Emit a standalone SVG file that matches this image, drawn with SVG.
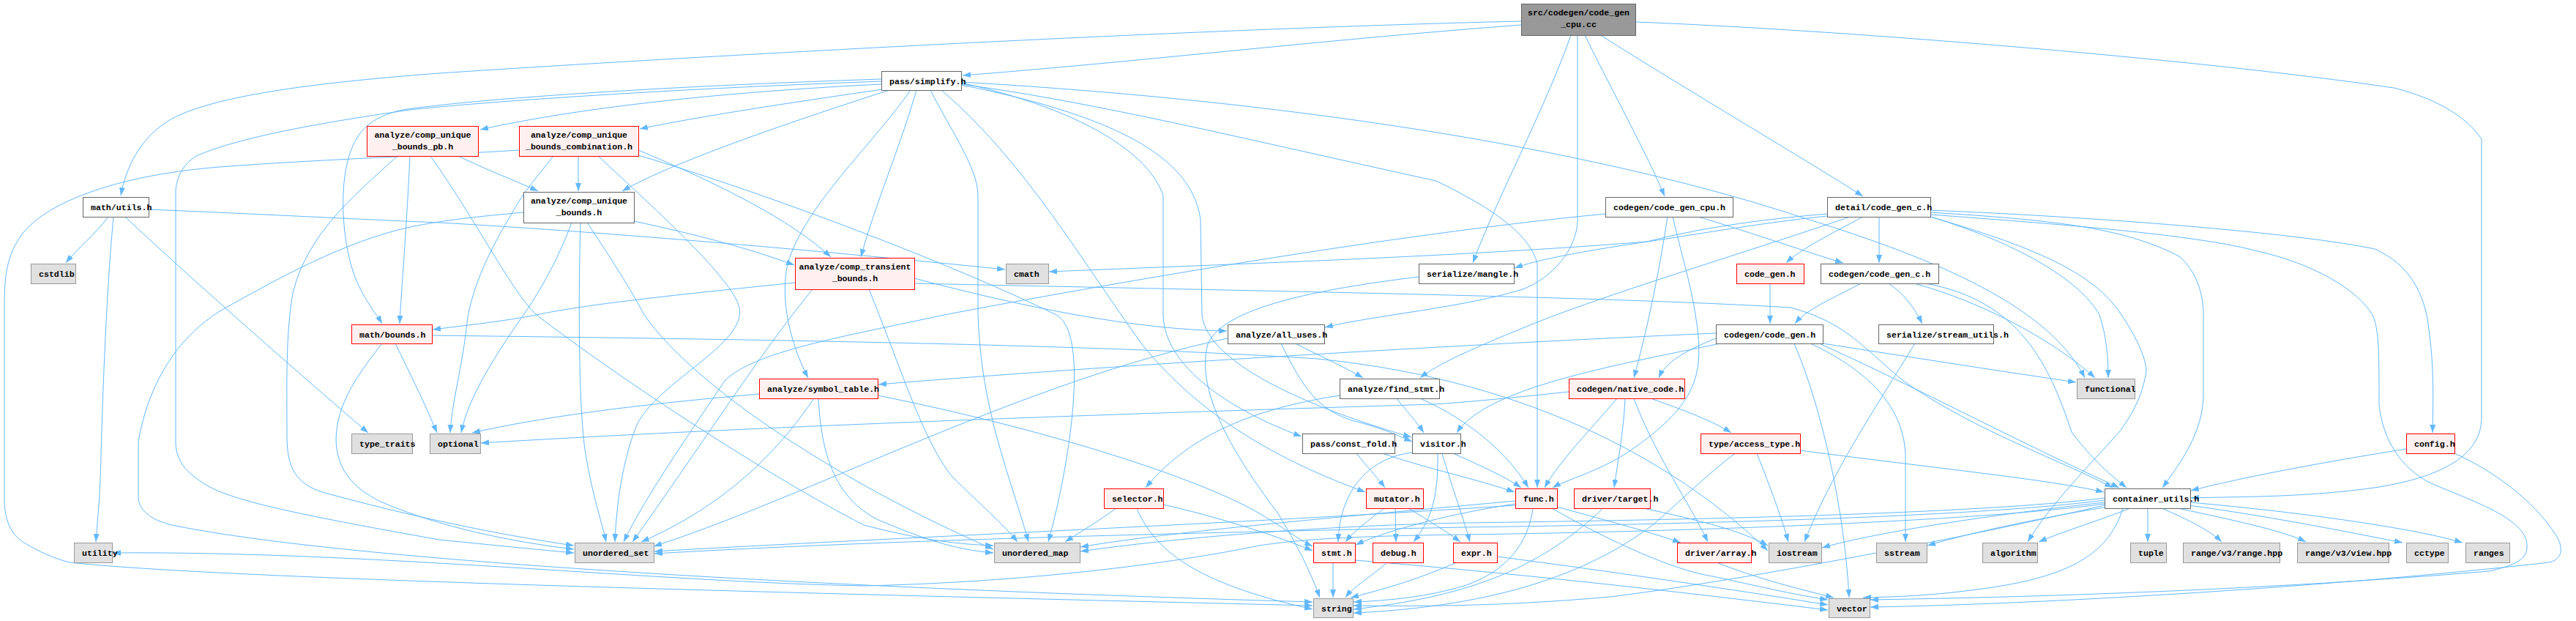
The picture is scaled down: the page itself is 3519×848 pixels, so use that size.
<svg xmlns="http://www.w3.org/2000/svg" width="3519" height="848" viewBox="0 0 3519 848">
<defs>
<marker id="a" viewBox="0 0 11 8" refX="11" refY="4" markerWidth="11" markerHeight="8" markerUnits="userSpaceOnUse" orient="auto"><path d="M0,0 L11,4 L0,8 z" fill="#63b8ff"/></marker>
<style>
.w rect{fill:#fff;stroke:#666;stroke-width:1}
.g rect{fill:#e0e0e0;stroke:#999;stroke-width:1}
.r rect{fill:#fff0f0;stroke:#f00;stroke-width:1}
.root rect{fill:#999;stroke:#666;stroke-width:1}
text{font-family:"Liberation Mono","DejaVu Sans Mono",monospace;font-size:11.6px;font-weight:bold;fill:#000}
.c{text-anchor:middle}
#edges path{fill:none;stroke:#63b8ff;stroke-width:1;marker-end:url(#a)}
</style>
</defs>
<rect width="3519" height="848" fill="#fff"/>
<g id="edges">
<path d="M2078,34 C1800,55 1550,85 1315,103"/>
<path d="M2078,29 C1600,40 900,80 600,100 C400,115 280,135 230,165 C190,190 172,230 165,267"/>
<path d="M2234,30 C2500,40 3000,80 3270,120 C3330,135 3370,160 3390,190 L3390,570 C3390,620 3340,650 3250,665 C3150,680 3050,678 2993,680"/>
<path d="M2146,48 C2110,150 2045,270 2012,359"/>
<path d="M2155,48 L2155,300 C2155,340 2120,380 2080,395 C2000,420 1880,430 1810,447"/>
<path d="M2165,48 C2200,120 2250,210 2274,268"/>
<path d="M2188,49 C2300,120 2470,220 2545,268"/>
<path d="M1204,115 C1000,125 800,145 656,177"/>
<path d="M1206,122 C1080,140 950,160 874,176"/>
<path d="M1215,123 C1100,160 920,220 850,261"/>
<path d="M1252,123 C1230,200 1195,280 1176,351"/>
<path d="M1204,108 C900,118 650,135 550,150 C505,160 485,180 475,220 C462,270 470,350 490,390 C505,420 515,430 522,442"/>
<path d="M1244,123 C1190,200 1100,280 1076,360 C1065,410 1080,470 1104,516"/>
<path d="M1313,115 C1500,140 1700,190 1962,247 C2040,285 2090,320 2100,360 L2100,666"/>
<path d="M1286,123 C1400,220 1480,360 1560,470 C1640,570 1750,630 1865,672"/>
<path d="M1313,113 C1480,150 1570,210 1589,267 L1589,430 C1590,500 1680,560 1778,596"/>
<path d="M1313,116 C1560,165 1630,230 1640,300 L1642,430 C1650,500 1800,560 1928,597"/>
<path d="M1313,112 C1800,140 2200,210 2465,298 C2650,355 2800,420 2848,516"/>
<path d="M1271,123 C1300,180 1336,230 1336,267 L1336,430 C1340,560 1380,650 1405,740"/>
<path d="M1204,111 C900,122 650,140 560,150 C420,170 320,190 268,213 C250,225 242,240 240,260 L240,607 C242,630 253,645 283,663 C320,685 420,705 600,737 C680,745 730,750 784,755"/>
<path d="M148,296 C130,320 105,340 90,359"/>
<path d="M203,286 C350,292 500,300 600,304 C800,315 1100,340 1373,368"/>
<path d="M155,297 C145,400 140,550 138,620 C137,680 133,710 131,740"/>
<path d="M172,297 C260,380 420,520 503,591"/>
<path d="M626,213 C660,230 700,245 735,261"/>
<path d="M588,213 C650,300 700,400 733,430 C850,520 1050,650 1180,717 C1250,735 1300,743 1357,745"/>
<path d="M543,213 C480,270 420,320 400,400 C390,460 392,520 392,600 C393,640 405,660 440,672 C560,705 680,730 784,745"/>
<path d="M560,213 C555,320 548,400 546,442"/>
<path d="M790,213 L790,261"/>
<path d="M872,205 C980,250 1080,300 1135,351"/>
<path d="M756,213 C735,240 715,262 700,290 C670,340 645,390 638,440 C632,500 617,550 615,591"/>
<path d="M817,213 C900,290 1000,380 1010,420 C1020,470 900,520 870,580 C850,630 842,690 840,740"/>
<path d="M872,212 C1050,265 1300,360 1443,430 C1490,455 1460,640 1432,740"/>
<path d="M709,205 C600,212 430,218 300,228 C150,240 60,280 30,320 C8,350 6,380 6,420 L6,687 C8,720 20,735 40,745 C60,757 80,764 95,768 C300,790 1000,808 1793,827"/>
<path d="M866,302 C950,320 1020,338 1085,362"/>
<path d="M781,304 C760,360 735,400 722,420 C680,480 640,540 630,591"/>
<path d="M793,304 C790,400 790,560 800,620 C810,680 822,712 828,740"/>
<path d="M802,304 C840,360 870,410 880,430 C950,530 1150,660 1357,750"/>
<path d="M715,290 C650,296 610,300 560,310 C470,330 380,380 300,425 C230,470 200,540 189,603 L189,682 C192,700 210,712 240,718 C500,770 1200,805 1793,822"/>
<path d="M1086,386 C950,400 800,415 733,430 C680,440 630,445 591,450"/>
<path d="M1249,380 C1400,420 1550,450 1676,452"/>
<path d="M1110,395 C1040,480 950,620 864,740"/>
<path d="M1187,395 C1230,500 1260,600 1300,650 C1340,690 1370,715 1390,740"/>
<path d="M1249,387 C1700,397 2200,405 2446,420 C2520,440 2540,470 2600,520 C2700,590 2820,630 2886,666"/>
<path d="M540,469 C560,510 580,550 597,591"/>
<path d="M522,469 C490,510 460,550 459,600 C460,640 480,665 520,685 C600,720 700,740 784,750"/>
<path d="M590,458 C1000,463 1500,470 1800,490 C2100,520 2300,640 2415,752"/>
<path d="M1037,538 C900,550 760,565 645,591"/>
<path d="M1112,544 C1060,620 990,690 876,740"/>
<path d="M1118,544 C1122,620 1140,680 1200,710 C1260,735 1300,750 1357,755"/>
<path d="M1199,540 C1400,580 1600,640 1700,690 C1740,710 1770,735 1793,746"/>
<path d="M1770,469 C1800,485 1835,500 1862,516"/>
<path d="M1750,469 C1780,530 1800,560 1850,575 C1890,585 1910,595 1929,603"/>
<path d="M1677,462 C1400,520 1100,680 893,746"/>
<path d="M1908,544 C1920,560 1935,575 1945,591"/>
<path d="M1940,544 C2010,575 2060,620 2088,666"/>
<path d="M1830,540 C1700,560 1620,600 1565,666"/>
<path d="M1525,694 C1500,712 1475,727 1455,740"/>
<path d="M1553,694 C1580,760 1650,800 1793,832"/>
<path d="M1589,689 C1660,705 1740,730 1793,752"/>
<path d="M1853,619 C1865,635 1880,650 1892,666"/>
<path d="M1888,619 C1950,640 2020,655 2069,672"/>
<path d="M1985,619 C2020,635 2055,650 2078,666"/>
<path d="M1929,618 C1870,625 1830,670 1828,740"/>
<path d="M1964,619 C1965,680 1955,710 1931,740"/>
<path d="M1970,619 C1985,670 2000,710 2008,740"/>
<path d="M1891,694 C1870,710 1850,725 1838,740"/>
<path d="M1906,694 L1907,740"/>
<path d="M1924,694 C1950,710 1975,725 1995,740"/>
<path d="M2070,688 C1990,700 1900,722 1852,744"/>
<path d="M2094,694 C2088,740 2060,780 2000,800 C1950,815 1900,820 1849,822"/>
<path d="M2070,684 C1900,700 1600,725 1476,747"/>
<path d="M2070,690 C1700,715 1200,735 894,753"/>
<path d="M2127,692 C2180,707 2250,725 2296,741"/>
<path d="M2120,694 C2200,740 2290,780 2340,787 C2400,800 2450,812 2497,819"/>
<path d="M2190,694 C2100,780 2000,815 1849,832"/>
<path d="M2245,694 C2320,710 2380,725 2415,745"/>
<path d="M1821,768 L1821,816"/>
<path d="M1851,765 C2100,785 2350,815 2497,833"/>
<path d="M1895,768 C1870,790 1850,800 1838,816"/>
<path d="M1990,768 C1940,790 1890,805 1845,816"/>
<path d="M2045,760 C2200,780 2400,810 2497,826"/>
<path d="M2345,768 C2400,790 2460,805 2505,816"/>
<path d="M2400,619 C2420,670 2435,710 2443,740"/>
<path d="M2370,619 C2330,650 2300,680 2260,715 C2150,800 2000,830 1849,837"/>
<path d="M2459,615 C2650,640 2800,655 2874,672"/>
<path d="M2209,544 C2170,590 2130,630 2110,666"/>
<path d="M2220,544 C2218,590 2210,630 2205,666"/>
<path d="M2232,544 C2260,620 2310,690 2333,740"/>
<path d="M2255,544 C2300,560 2340,575 2365,591"/>
<path d="M2143,535 C2050,545 1990,550 1960,552 C1700,560 1100,578 657,605"/>
<path d="M2344,462 C2300,480 2275,495 2266,516"/>
<path d="M2490,469 C2600,486 2720,505 2836,522"/>
<path d="M2485,469 C2600,520 2750,600 2895,666"/>
<path d="M2451,469 C2490,560 2520,700 2526,816"/>
<path d="M2473,469 C2560,510 2600,560 2603,620 L2603,740"/>
<path d="M2344,455 C2000,470 1500,500 1200,525"/>
<path d="M2350,469 C2200,500 2030,530 1990,591"/>
<path d="M2320,296 C2400,320 2470,345 2518,359"/>
<path d="M2278,296 C2265,380 2250,450 2232,516"/>
<path d="M2285,296 C2300,360 2314,400 2320,460 C2325,520 2310,560 2220,620 C2180,645 2140,655 2121,666"/>
<path d="M2193,292 C1900,320 1500,390 1290,430 C1150,460 1030,480 990,520 C950,580 880,680 852,740"/>
<path d="M2542,387 C2510,405 2470,420 2452,442"/>
<path d="M2580,387 C2600,400 2615,420 2626,442"/>
<path d="M2615,387 C2700,410 2800,460 2862,516"/>
<path d="M2630,387 C2760,410 2800,500 2830,590 C2860,630 2885,650 2905,666"/>
<path d="M2545,296 C2500,320 2460,340 2440,359"/>
<path d="M2567,296 L2567,359"/>
<path d="M2527,296 C2400,340 2200,400 2100,440 C2000,480 1960,500 1940,516"/>
<path d="M2496,292 C2400,300 2320,312 2250,330 C2150,345 2100,355 2069,366"/>
<path d="M2496,295 C2400,305 2320,320 2250,330 C2000,350 1700,360 1433,371"/>
<path d="M2637,290 C2800,300 2900,310 2977,350 C3000,370 3010,400 3010,430 L3010,537 C3010,590 2980,630 2954,666"/>
<path d="M2637,287 C2900,298 3150,320 3244,340 C3290,360 3313,400 3318,450 C3325,500 3324,540 3323,591"/>
<path d="M2637,293 C2800,305 3000,320 3084,343 C3160,360 3220,395 3241,430 C3250,450 3250,480 3250,553 C3255,600 3280,640 3321,660 C3380,685 3440,705 3451,737 C3456,760 3445,770 3400,780 C3100,805 2800,815 2555,819"/>
<path d="M2637,296 C2750,330 2840,380 2868,430 C2878,460 2880,490 2880,516"/>
<path d="M2637,296 C2770,335 2860,370 2898,430 C2925,470 2935,500 2931,513 C2925,545 2910,570 2895,590 C2850,640 2800,690 2770,740"/>
<path d="M2418,387 L2418,442"/>
<path d="M1938,378 C1800,395 1670,420 1650,470 C1630,540 1700,640 1745,700 C1770,740 1790,780 1803,816"/>
<path d="M2616,469 C2560,560 2500,650 2465,740"/>
<path d="M3287,613 C3150,635 3050,655 2993,670"/>
<path d="M3353,619 C3400,640 3460,680 3493,733 C3505,755 3495,765 3482,768 C3200,800 2800,825 2555,829"/>
<path d="M2934,694 L2934,740"/>
<path d="M2953,694 C2990,710 3020,725 3035,740"/>
<path d="M2975,694 C3050,710 3120,725 3150,740"/>
<path d="M2990,690 C3100,705 3200,725 3282,741"/>
<path d="M2992,686 C3150,700 3300,722 3364,741"/>
<path d="M2910,694 C2870,710 2820,725 2785,740"/>
<path d="M2880,692 C2800,705 2700,725 2633,745"/>
<path d="M2875,686 C2700,705 2550,730 2489,748"/>
<path d="M2900,694 C2880,760 2820,790 2700,805 C2650,812 2600,815 2545,816"/>
<path d="M2875,690 C2700,730 2400,790 2200,815 C2050,828 1950,828 1849,827"/>
<path d="M2875,680 C2700,702 2300,710 2000,714 C1800,718 1600,735 1476,753"/>
<path d="M2875,683 C2700,706 2300,716 2000,720 C1600,728 1200,738 894,756"/>
<path d="M2875,688 C2700,712 2300,726 2000,730 C1850,732 1780,736 1720,745 C1600,770 1400,795 1180,800 C900,795 500,752 154,755"/>
</g>
<g id="nodes">
<g id="n-root" class="root"><rect x="2078.5" y="5.5" width="156" height="43"/><text class="c" x="2156.5" y="21">src/codegen/code_gen</text><text class="c" x="2156.5" y="37">_cpu.cc</text></g>
<g id="n-simplify" class="w"><rect x="1204.5" y="97.5" width="109" height="26"/><text x="1215" y="115">pass/simplify.h</text></g>
<g id="n-math-utils" class="w"><rect x="113.5" y="269.5" width="90" height="27"/><text x="124" y="287">math/utils.h</text></g>
<g id="n-cstdlib" class="g"><rect x="42.5" y="360.5" width="61" height="27"/><text x="53" y="378">cstdlib</text></g>
<g id="n-cub-pb" class="r"><rect x="501.5" y="172.5" width="152" height="41"/><text class="c" x="577.5" y="188">analyze/comp_unique</text><text class="c" x="577.5" y="204">_bounds_pb.h</text></g>
<g id="n-cub-comb" class="r"><rect x="709.5" y="172.5" width="163" height="41"/><text class="c" x="791" y="188">analyze/comp_unique</text><text class="c" x="791" y="204">_bounds_combination.h</text></g>
<g id="n-cub" class="w"><rect x="715.5" y="262.5" width="151" height="42"/><text class="c" x="791" y="278">analyze/comp_unique</text><text class="c" x="791" y="294">_bounds.h</text></g>
<g id="n-ctb" class="r"><rect x="1086.5" y="352.5" width="163" height="43"/><text class="c" x="1168" y="368">analyze/comp_transient</text><text class="c" x="1168" y="384">_bounds.h</text></g>
<g id="n-cmath" class="g"><rect x="1374.5" y="360.5" width="58" height="27"/><text x="1385" y="378">cmath</text></g>
<g id="n-mangle" class="w"><rect x="1938.5" y="360.5" width="130" height="27"/><text x="1949" y="378">serialize/mangle.h</text></g>
<g id="n-cg-cpu-h" class="w"><rect x="2193.5" y="269.5" width="174" height="27"/><text x="2204" y="287">codegen/code_gen_cpu.h</text></g>
<g id="n-detail" class="w"><rect x="2496.5" y="269.5" width="141" height="27"/><text x="2507" y="287">detail/code_gen_c.h</text></g>
<g id="n-code-gen-h" class="r"><rect x="2372.5" y="360.5" width="92" height="27"/><text x="2383" y="378">code_gen.h</text></g>
<g id="n-cg-c" class="w"><rect x="2487.5" y="360.5" width="161" height="27"/><text x="2498" y="378">codegen/code_gen_c.h</text></g>
<g id="n-math-bounds" class="r"><rect x="480.5" y="443.5" width="110" height="26"/><text x="491" y="461">math/bounds.h</text></g>
<g id="n-type-traits" class="g"><rect x="480.5" y="592.5" width="83" height="27"/><text x="491" y="610">type_traits</text></g>
<g id="n-optional" class="g"><rect x="587.5" y="592.5" width="69" height="27"/><text x="598" y="610">optional</text></g>
<g id="n-utility" class="g"><rect x="101.5" y="741.5" width="52" height="27"/><text x="112" y="759">utility</text></g>
<g id="n-uset" class="g"><rect x="785.5" y="741.5" width="108" height="27"/><text x="796" y="759">unordered_set</text></g>
<g id="n-symtab" class="r"><rect x="1037.5" y="517.5" width="162" height="27"/><text x="1048" y="535">analyze/symbol_table.h</text></g>
<g id="n-all-uses" class="w"><rect x="1677.5" y="443.5" width="132" height="26"/><text x="1688" y="461">analyze/all_uses.h</text></g>
<g id="n-selector" class="r"><rect x="1508.5" y="667.5" width="81" height="27"/><text x="1519" y="685">selector.h</text></g>
<g id="n-umap" class="g"><rect x="1358.5" y="741.5" width="117" height="27"/><text x="1369" y="759">unordered_map</text></g>
<g id="n-find-stmt" class="w"><rect x="1830.5" y="517.5" width="136" height="27"/><text x="1841" y="535">analyze/find_stmt.h</text></g>
<g id="n-native" class="r"><rect x="2143.5" y="517.5" width="158" height="27"/><text x="2154" y="535">codegen/native_code.h</text></g>
<g id="n-const-fold" class="w"><rect x="1779.5" y="592.5" width="126" height="27"/><text x="1790" y="610">pass/const_fold.h</text></g>
<g id="n-visitor" class="w"><rect x="1929.5" y="592.5" width="66" height="27"/><text x="1940" y="610">visitor.h</text></g>
<g id="n-mutator" class="r"><rect x="1866.5" y="667.5" width="78" height="27"/><text x="1877" y="685">mutator.h</text></g>
<g id="n-func" class="r"><rect x="2070.5" y="667.5" width="57" height="27"/><text x="2081" y="685">func.h</text></g>
<g id="n-target" class="r"><rect x="2150.5" y="667.5" width="104" height="27"/><text x="2161" y="685">driver/target.h</text></g>
<g id="n-stmt" class="r"><rect x="1794.5" y="741.5" width="57" height="27"/><text x="1805" y="759">stmt.h</text></g>
<g id="n-debug" class="r"><rect x="1875.5" y="741.5" width="69" height="27"/><text x="1886" y="759">debug.h</text></g>
<g id="n-expr" class="r"><rect x="1985.5" y="741.5" width="60" height="27"/><text x="1996" y="759">expr.h</text></g>
<g id="n-string" class="g"><rect x="1794.5" y="817.5" width="54" height="26"/><text x="1805" y="835">string</text></g>
<g id="n-access-type" class="r"><rect x="2323.5" y="592.5" width="136" height="27"/><text x="2334" y="610">type/access_type.h</text></g>
<g id="n-array" class="r"><rect x="2291.5" y="741.5" width="101" height="27"/><text x="2302" y="759">driver/array.h</text></g>
<g id="n-cg-h" class="w"><rect x="2344.5" y="443.5" width="146" height="26"/><text x="2355" y="461">codegen/code_gen.h</text></g>
<g id="n-stream-utils" class="w"><rect x="2566.5" y="443.5" width="157" height="26"/><text x="2577" y="461">serialize/stream_utils.h</text></g>
<g id="n-functional" class="g"><rect x="2837.5" y="517.5" width="79" height="27"/><text x="2848" y="535">functional</text></g>
<g id="n-container-utils" class="w"><rect x="2875.5" y="667.5" width="117" height="27"/><text x="2886" y="685">container_utils.h</text></g>
<g id="n-iostream" class="g"><rect x="2416.5" y="741.5" width="72" height="27"/><text x="2427" y="759">iostream</text></g>
<g id="n-sstream" class="g"><rect x="2563.5" y="741.5" width="69" height="27"/><text x="2574" y="759">sstream</text></g>
<g id="n-algorithm" class="g"><rect x="2708.5" y="741.5" width="75" height="27"/><text x="2719" y="759">algorithm</text></g>
<g id="n-vector" class="g"><rect x="2498.5" y="817.5" width="56" height="26"/><text x="2509" y="835">vector</text></g>
<g id="n-tuple" class="g"><rect x="2910.5" y="741.5" width="49" height="27"/><text x="2921" y="759">tuple</text></g>
<g id="n-range-hpp" class="g"><rect x="2982.5" y="741.5" width="132" height="27"/><text x="2993" y="759">range/v3/range.hpp</text></g>
<g id="n-view-hpp" class="g"><rect x="3138.5" y="741.5" width="125" height="27"/><text x="3149" y="759">range/v3/view.hpp</text></g>
<g id="n-cctype" class="g"><rect x="3287.5" y="741.5" width="57" height="27"/><text x="3298" y="759">cctype</text></g>
<g id="n-ranges" class="g"><rect x="3368.5" y="741.5" width="60" height="27"/><text x="3379" y="759">ranges</text></g>
<g id="n-config" class="r"><rect x="3287.5" y="592.5" width="66" height="27"/><text x="3298" y="610">config.h</text></g>
</g>
</svg>
